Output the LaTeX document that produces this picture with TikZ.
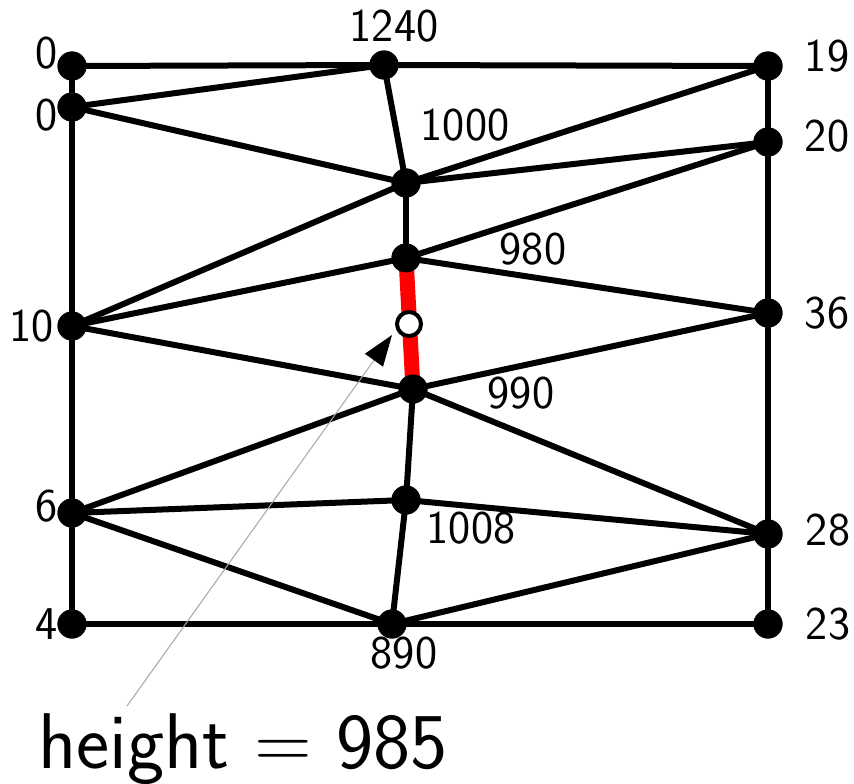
\documentclass[tikz,border=0pt]{standalone}
\usetikzlibrary{arrows.meta}
\tikzset{
  vtx/.style={circle,fill=black,inner sep=0pt,minimum size=29pt},
  hole/.style={circle,fill=white,draw=black,line width=4pt,inner sep=0pt,minimum size=24pt},
  lbl/.style={font=\sffamily\fontsize{47}{52}\selectfont,inner sep=0pt},
  edge/.style={line width=6pt,black},
  redge/.style={line width=15pt,red},
}
\begin{document}
\begin{tikzpicture}[x=1pt,y=-1pt]
\useasboundingbox (0,0) rectangle (854,784);
% vertices
\node[vtx] (a0) at (72,66) {};
\node[vtx] (a1) at (72,107) {};
\node[vtx] (a10) at (72,326) {};
\node[vtx] (a6) at (72,513) {};
\node[vtx] (a4) at (72,624) {};
\node[vtx] (m1240) at (384,65) {};
\node[vtx] (m1000) at (406,183) {};
\node[vtx] (m980) at (406,258) {};
\node[vtx] (m990) at (413,389) {};
\node[vtx] (m1008) at (406,500) {};
\node[vtx] (m890) at (392,624) {};
\node[vtx] (r19) at (768,66) {};
\node[vtx] (r20) at (768,142) {};
\node[vtx] (r36) at (768,313) {};
\node[vtx] (r28) at (768,534) {};
\node[vtx] (r23) at (768,624) {};
% edges
\draw[edge] (a0.center) -- (a4.center);
\draw[edge] (r19.center) -- (r23.center);
\draw[edge] (a0.center) -- (m1240.center) -- (r19.center);
\draw[edge] (a4.center) -- (m890.center) -- (r23.center);
\draw[edge] (a1.center) -- (m1240.center);
\draw[edge] (m1240.center) -- (m1000.center);
\draw[edge] (a1.center) -- (m1000.center);
\draw[edge] (m1000.center) -- (r19.center);
\draw[edge] (m1000.center) -- (r20.center);
\draw[edge] (m1000.center) -- (a10.center);
\draw[edge] (m1000.center) -- (m980.center);
\draw[edge] (a10.center) -- (m980.center);
\draw[edge] (m980.center) -- (r20.center);
\draw[edge] (m980.center) -- (r36.center);
\draw[edge] (a10.center) -- (m990.center);
\draw[edge] (m990.center) -- (r36.center);
\draw[edge] (m990.center) -- (a6.center);
\draw[edge] (m990.center) -- (r28.center);
\draw[edge] (m990.center) -- (m1008.center);
\draw[edge] (a6.center) -- (m1008.center);
\draw[edge] (m1008.center) -- (r28.center);
\draw[edge] (m1008.center) -- (m890.center);
\draw[edge] (a6.center) -- (m890.center);
\draw[edge] (m890.center) -- (r28.center);
\draw[redge] (m980.center) -- (m990.center);
% redraw vertices on top
\foreach \n in {a0,a1,a10,a6,a4,m1240,m1000,m980,m990,m1008,m890,r19,r20,r36,r28,r23}
  \fill[black] (\n.center) circle (14.5pt);
\node[hole] (h) at (409,324) {};
% labels
\node[lbl] (l0a) at (47,53) {0};
\node[lbl] (l0b) at (47,115) {0};
\node[lbl] (l10) at (32,326) {10};
\node[lbl] (l6) at (47,506) {6};
\node[lbl] (l4) at (47,624) {4};
\node[lbl] (l1240) at (394,26) {1240};
\node[lbl] (l1000) at (465,125) {1000};
\node[lbl] (l980) at (533,249) {980};
\node[lbl] (l990) at (521,393) {990};
\node[lbl] (l1008) at (471,528) {1008};
\node[lbl] (l890) at (404,653) {890};
\node[lbl] (l19) at (827,56) {19};
\node[lbl] (l20) at (827,136) {20};
\node[lbl] (l36) at (827,313) {36};
\node[lbl] (l28) at (828,530) {28};
\node[lbl] (l23) at (828,624) {23};
% annotation
\node[font=\sffamily\fontsize{79}{84}\selectfont,inner sep=0pt,anchor=base west] (ann) at (38,768) {height = 985};
\coordinate (annstart) at (127,706);
\coordinate (tip) at (392,335);
\draw[line width=1pt,black!35,-{Triangle[length=31pt,width=22pt,color=black]}] (annstart) -- (tip);
\end{tikzpicture}
\end{document}
